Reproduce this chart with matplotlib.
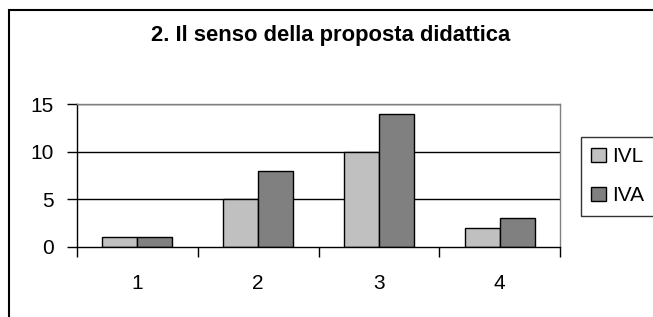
import matplotlib
matplotlib.use("Agg")
import matplotlib.pyplot as plt
import matplotlib.patches as mpatches
import numpy as np

categories = ["1", "2", "3", "4"]
series_names = ["IVL", "IVA"]
ivl = [1, 5, 10, 2]
iva = [1, 8, 14, 3]
yticks = [0, 5, 10, 15]
title = "2. Il senso della proposta didattica"

plt.rcParams['font.family'] = ['Liberation Sans', 'DejaVu Sans']

W, H = 653, 317
fig = plt.figure(figsize=(W / 100, H / 100), dpi=100)

# outer chart border (only left/top visible)
fig.patches.append(mpatches.Rectangle((8.5 / W, -0.5), 2, 1.5 - 9.5 / H,
                                      transform=fig.transFigure, fill=False,
                                      edgecolor='black', linewidth=1.5))

l, r, t, b = 77, 560, 104.3, 246.7
ax = fig.add_axes([l / W, 1 - b / H, (r - l) / W, (b - t) / H])

x = np.arange(len(categories))
bw = 0.29
ax.bar(x - bw / 2, ivl, bw, color='#C0C0C0', edgecolor='black', linewidth=1, label=series_names[0], zorder=3)
ax.bar(x + bw / 2, iva, bw, color='#808080', edgecolor='black', linewidth=1, label=series_names[1], zorder=3)

fs = 15
ax.set_xlim(-0.5, len(categories) - 0.5)
ax.set_ylim(0, 15)
ax.set_yticks(yticks)
ax.set_yticklabels([str(v) for v in yticks], fontsize=fs)
ax.set_xticks(np.arange(len(categories) + 1) - 0.5)
ax.set_xticklabels([])
ax.set_xticks(x, minor=True)
ax.set_xticklabels(categories, minor=True, fontsize=fs)
ax.tick_params(axis='x', which='major', length=7, width=1, direction='out')
ax.tick_params(axis='x', which='minor', length=0, pad=20)
ax.tick_params(axis='y', length=7, width=1, direction='out', pad=10)

for y in yticks[1:]:
    ax.axhline(y, color='black', linewidth=1, zorder=1)

for side in ['top', 'right']:
    ax.spines[side].set_color('#808080')
    ax.spines[side].set_linewidth(1)
for side in ['left', 'bottom']:
    ax.spines[side].set_color('black')
    ax.spines[side].set_linewidth(1)
ax.spines['bottom'].set_zorder(4)

fig.text(331 / W, 1 - 36 / H, title, ha='center', va='center', fontsize=15.8, fontweight='bold')

leg = fig.legend(loc='upper left', bbox_to_anchor=(581 / W, 1 - 137 / H), borderaxespad=0,
                 fontsize=fs, frameon=True, fancybox=False, edgecolor='black',
                 handlelength=0.68, handleheight=0.68, handletextpad=0.3,
                 labelspacing=0.95, borderpad=0.5)
leg.get_frame().set_linewidth(1)

fig.savefig("out.png", dpi=100)
